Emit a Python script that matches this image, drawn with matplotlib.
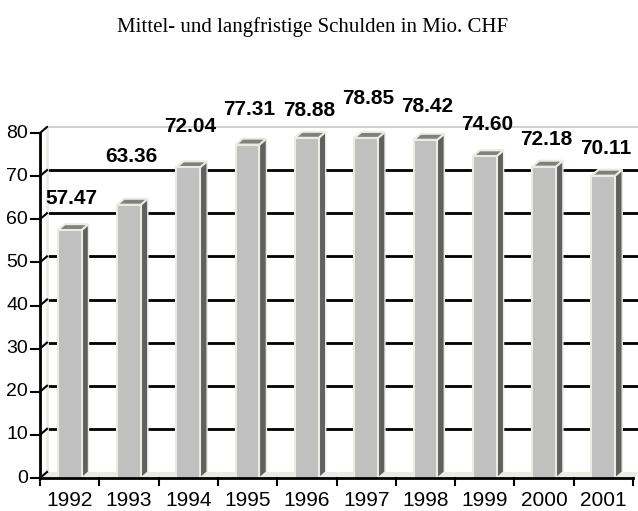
import matplotlib
matplotlib.use("Agg")
import matplotlib.pyplot as plt
from matplotlib.patches import Polygon, Rectangle

# data
years = ['1992', '1993', '1994', '1995', '1996', '1997', '1998', '1999', '2000', '2001']
debt = [57.47, 63.36, 72.04, 77.31, 78.88, 78.85, 78.42, 74.60, 72.18, 70.11]
yticks = [0, 10, 20, 30, 40, 50, 60, 70, 80]
title = 'Mittel- und langfristige Schulden in Mio. CHF'

# label lift above bar top (pixels), as placed in the original
label_dy = [32, 48, 41, 35, 27, 39, 33, 32, 27, 27]

W, H = 638, 511
fig = plt.figure(figsize=(W / 100, H / 100), dpi=100)
ax = fig.add_axes([40 / W, (H - 478) / H, (633 - 40) / W, (478 - 133) / H])
ax.set_xlim(0, len(years))
ax.set_ylim(0, 80)
ax.axis('off')

# depth of the fake 3d in data units
dx = 7 / 59.3
dy = 6 / 4.3125
bw = 0.40
n = len(years)

edge = '#ebebe3'

# back wall gridlines
for t in yticks[1:-1]:
    ax.plot([dx, n + dx], [t + dy, t + dy], color='black', lw=2, zorder=1, clip_on=False)
ax.plot([dx, n + dx], [80 + dy, 80 + dy], color='#c8c8c8', lw=1.2, zorder=1, clip_on=False)
ax.plot([dx, dx], [dy, 80 + dy], color=edge, lw=2, zorder=1, clip_on=False)

# floor
ax.add_patch(Polygon([(0, 0), (n, 0), (n + dx, dy), (dx, dy)], closed=True,
                     facecolor=edge, edgecolor='none', zorder=2, clip_on=False))

# bars
for i, v in enumerate(debt):
    c = i + 0.5
    x0, x1 = c - bw / 2, c + bw / 2
    ax.add_patch(Polygon([(x1, 0), (x1 + dx, dy), (x1 + dx, v + dy), (x1, v)], closed=True,
                         facecolor='#606060', edgecolor=edge, lw=1, zorder=3, clip_on=False))
    ax.add_patch(Polygon([(x0, v), (x1, v), (x1 + dx, v + dy), (x0 + dx, v + dy)], closed=True,
                         facecolor='#808080', edgecolor=edge, lw=1.5, zorder=3, clip_on=False))
    ax.add_patch(Rectangle((x0, 0), bw, v, facecolor='#c0c0c0', edgecolor=edge,
                           lw=1.5, zorder=4, clip_on=False))
    ax.annotate('%.2f' % v, (c, v), xytext=(2, label_dy[i]), textcoords='offset pixels',
                ha='center', va='center', fontsize=15, fontweight='bold',
                family='Liberation Sans', zorder=6, annotation_clip=False)

# axes lines, ticks
ax.plot([0, 0], [0, 80], color='black', lw=2, zorder=5, clip_on=False)
ax.plot([0, n], [0, 0], color='black', lw=2, zorder=5, clip_on=False)
tk = 0.15
for t in yticks:
    ax.plot([-tk, 0], [t, t], color='black', lw=1.5, zorder=5, clip_on=False)
    ax.plot([0, dx], [t, t + dy], color='black', lw=1.5, zorder=5, clip_on=False)
    ax.text(-0.2, t, str(t), ha='right', va='center', fontsize=14, family='Liberation Sans')
for i in range(n + 1):
    ax.plot([i, i], [0, -1.6], color='black', lw=1.5, zorder=5, clip_on=False)
for i, y in enumerate(years):
    ax.text(i + 0.5, -6.4, y, ha='center', va='baseline', fontsize=15, family='Liberation Sans')

fig.text(313 / W, 1 - 27 / H, title, ha='center', va='center', fontsize=15,
         family='Liberation Serif')

fig.savefig('out.png', dpi=100)
